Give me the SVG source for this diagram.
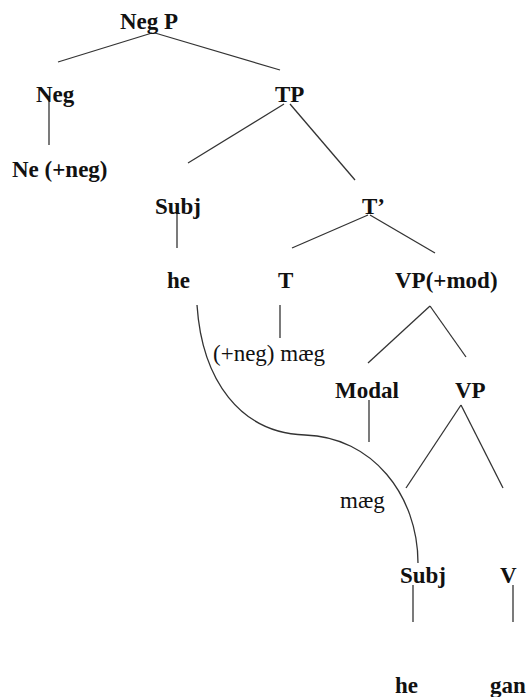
<svg xmlns="http://www.w3.org/2000/svg" width="527" height="697" viewBox="0 0 527 697">
<style>
text{font-family:"Liberation Serif","Times New Roman",serif;font-size:23px;fill:#111}
.b{font-weight:bold}
.r{font-weight:normal}
.e{stroke:#333;stroke-width:1.3;fill:none}
</style>
<rect width="527" height="697" fill="#fff"/>
<g id="connectors">
<line class="e" x1="152" y1="33" x2="58" y2="62"/>
<line class="e" x1="155" y1="33" x2="280" y2="70"/>
<line class="e" x1="49" y1="100" x2="49" y2="145"/>
<line class="e" x1="284" y1="104" x2="188" y2="163"/>
<line class="e" x1="290" y1="104" x2="355" y2="180"/>
<line class="e" x1="177" y1="205" x2="177" y2="248"/>
<line class="e" x1="368" y1="215" x2="292" y2="248"/>
<line class="e" x1="370" y1="215" x2="435" y2="253"/>
<line class="e" x1="280" y1="305" x2="280" y2="338"/>
<line class="e" x1="430" y1="306" x2="368" y2="363"/>
<line class="e" x1="430" y1="306" x2="466" y2="357"/>
<line class="e" x1="369" y1="400" x2="369" y2="442"/>
<line class="e" x1="461" y1="405" x2="406" y2="488"/>
<line class="e" x1="461" y1="405" x2="503" y2="488"/>
<line class="e" x1="413" y1="585" x2="413" y2="622"/>
<line class="e" x1="513" y1="585" x2="513" y2="622"/>
<path class="e" d="M197,305 C202,380 240,433 305,435 C372,437 418,495 418,563"/>
</g>
<g id="negp"><text class="b" x="120" y="29">Neg P</text></g>
<g id="neg"><text class="b" x="36" y="102">Neg</text></g>
<g id="tp"><text class="b" x="275" y="102">TP</text></g>
<g id="ne"><text class="b" x="12" y="177">Ne (+neg)</text></g>
<g id="subj1"><text class="b" x="155" y="214">Subj</text></g>
<g id="tbar"><text class="b" x="362" y="214">T’</text></g>
<g id="he1"><text class="b" x="167" y="288">he</text></g>
<g id="t"><text class="b" x="278" y="288">T</text></g>
<g id="vpmod"><text class="b" x="395" y="288">VP(+mod)</text></g>
<g id="negmaeg"><text class="r" x="213" y="361">(+neg) mæg</text></g>
<g id="modal"><text class="b" x="335" y="398">Modal</text></g>
<g id="vp"><text class="b" x="455" y="398">VP</text></g>
<g id="maeg"><text class="r" x="340" y="508">mæg</text></g>
<g id="subj2"><text class="b" x="400" y="583">Subj</text></g>
<g id="v"><text class="b" x="500" y="583">V</text></g>
<g id="he2"><text class="b" x="395" y="693">he</text></g>
<g id="gan"><text class="b" x="490" y="693">gan</text></g>
</svg>
